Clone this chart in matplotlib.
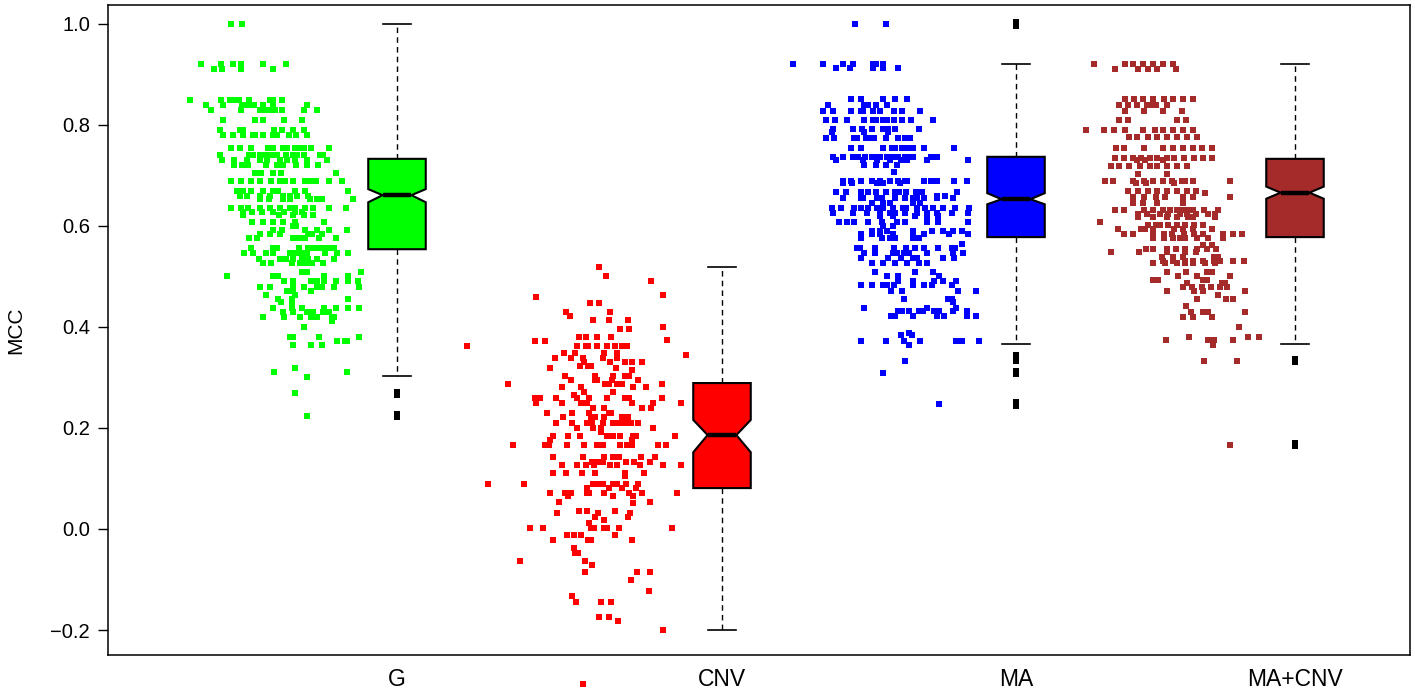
import matplotlib
matplotlib.use("Agg")
import matplotlib.pyplot as plt

# ---------------- data ----------------
categories = ["G", "CNV", "MA", "MA+CNV"]
colors = ["#00FF00", "#FF0000", "#0000FF", "#A52A2A"]

# box statistics (MCC)
box_whislo = [0.302, -0.200, 0.366, 0.366]
box_q1 = [0.554, 0.081, 0.578, 0.578]
box_med = [0.661, 0.186, 0.653, 0.666]
box_q3 = [0.733, 0.289, 0.737, 0.733]
box_whishi = [1.000, 0.519, 0.920, 0.920]
box_cilo = [0.647, 0.152, 0.643, 0.654]
box_cihi = [0.673, 0.216, 0.665, 0.678]
box_fliers = [
    [0.272, 0.266, 0.227, 0.221],
    [],
    [1.003, 0.997, 0.345, 0.338, 0.333, 0.312, 0.307, 0.251, 0.244],
    [0.337, 0.331, 0.171, 0.165],
]

# jittered points: MCC levels and the x positions of the points at each level
G_levels = [1.00, 0.92, 0.91, 0.85, 0.84, 0.83, 0.81, 0.79, 0.78, 0.755, 0.74, 0.73, 0.72, 0.705,
            0.69, 0.67, 0.66, 0.653, 0.635, 0.628, 0.622, 0.607, 0.60, 0.592, 0.584, 0.577,
            0.556, 0.547, 0.534, 0.526, 0.508, 0.501, 0.492, 0.48, 0.471, 0.463, 0.455, 0.45,
            0.438, 0.43, 0.42, 0.412, 0.40, 0.38, 0.373, 0.364, 0.318, 0.31, 0.30, 0.269, 0.224]
G_x = [
    [2.31, 2.42],
    [2.01, 2.21, 2.33, 2.41, 2.63, 2.86],
    [2.14, 2.22, 2.41, 2.73],
    [1.90, 2.21, 2.30, 2.33, 2.39, 2.49, 2.70, 2.73, 2.82],
    [2.06, 2.23, 2.42, 2.48, 2.54, 2.63, 2.73, 3.07],
    [2.11, 2.41, 2.60, 2.63, 2.69, 2.75, 2.82, 3.04, 3.17],
    [2.23, 2.55, 2.63, 2.84, 3.02],
    [2.20, 2.40, 2.43, 2.74, 2.82, 2.93, 3.04],
    [2.23, 2.33, 2.43, 2.53, 2.55, 2.63, 2.73, 2.77, 2.89, 2.96, 3.07],
    [2.31, 2.40, 2.51, 2.68, 2.73, 2.83, 2.87, 2.95, 3.00, 3.04, 3.11, 3.29],
    [2.20, 2.49, 2.53, 2.60, 2.65, 2.71, 2.77, 2.86, 2.93, 2.97, 3.04, 3.20, 3.23],
    [2.22, 2.34, 2.47, 2.60, 2.67, 2.80, 2.87, 2.95, 3.07, 3.27],
    [2.34, 2.42, 2.48, 2.66, 2.77, 2.83, 2.96, 3.07, 3.18],
    [2.55, 2.61, 2.73, 2.81, 3.36],
    [2.31, 2.41, 2.51, 2.60, 2.71, 2.80, 2.85, 2.93, 3.05, 3.11, 3.16, 3.29, 3.42],
    [2.37, 2.43, 2.51, 2.63, 2.73, 2.78, 2.95, 3.05, 3.48],
    [2.40, 2.47, 2.60, 2.70, 2.83, 2.90, 2.97, 3.08],
    [2.60, 2.69, 2.83, 2.90, 3.10, 3.17, 3.22, 3.53],
    [2.31, 2.41, 2.48, 2.60, 2.70, 2.80, 2.90, 2.95, 3.05, 3.13, 3.29, 3.46],
    [2.43, 2.52, 2.62, 2.73, 2.84, 2.95, 3.02],
    [2.43, 2.79, 2.93, 3.04, 3.13],
    [2.52, 2.63, 2.73, 2.83, 2.95, 3.24],
    [2.93, 2.96],
    [2.73, 2.82, 3.05, 3.17, 3.29, 3.47],
    [2.60, 2.70, 2.80, 3.08, 3.12, 3.22],
    [2.49, 2.57, 2.93, 2.99, 3.05, 3.19, 3.36],
    [2.51, 2.73, 2.77, 2.99, 3.08, 3.12, 3.17, 3.23, 3.28, 3.34],
    [2.44, 2.53, 2.66, 2.73, 2.90, 2.96, 3.02, 3.07, 3.25, 3.37, 3.48],
    [2.59, 2.80, 2.86, 2.93, 3.02, 3.08, 3.17, 3.34],
    [2.63, 2.71, 2.92, 3.00, 3.06, 3.12, 3.23],
    [3.02, 3.07, 3.61],
    [2.27, 2.73, 2.78, 3.24, 3.48],
    [2.84, 2.93, 3.11, 3.17, 3.24, 3.36, 3.48, 3.58],
    [2.60, 2.70, 2.93, 3.04, 3.17, 3.22, 3.34, 3.59],
    [2.87, 2.93, 3.11],
    [2.66, 2.95],
    [2.78, 2.92, 3.48],
    [2.81, 2.92],
    [2.73, 2.92, 3.02, 3.24, 3.36, 3.48, 3.59],
    [2.83, 2.93, 3.07, 3.13, 3.23, 3.29],
    [2.63, 2.84, 3.00, 3.11, 3.17, 3.32, 3.34],
    [3.32],
    [3.04],
    [2.90, 2.93, 3.19, 3.59],
    [3.37, 3.45, 3.47],
    [2.93, 3.11, 3.22],
    [2.95],
    [2.74, 3.47],
    [3.07],
    [2.95],
    [3.07],
]

CNV_levels = [0.518, 0.50, 0.492, 0.464, 0.459, 0.448, 0.43, 0.422, 0.414, 0.40, 0.396, 0.381,
              0.375, 0.372, 0.363, 0.348, 0.345, 0.338, 0.331, 0.323, 0.318, 0.315, 0.303, 0.295,
              0.288, 0.282, 0.271, 0.265, 0.259, 0.249, 0.24, 0.23, 0.222, 0.209, 0.20, 0.193,
              0.184, 0.176, 0.166, 0.143, 0.133, 0.127, 0.111, 0.105, 0.09, 0.082, 0.072, 0.066,
              0.054, 0.052, 0.036, 0.031, 0.023, 0.018, 0.011, 0.001, -0.012, -0.022, -0.038,
              -0.047, -0.063, -0.072, -0.086, -0.10, -0.123, -0.132, -0.144, -0.175, -0.182,
              -0.20, -0.307]
CNV_x = [
    [5.99], [6.06], [6.51], [6.63], [5.36], [5.90, 5.99], [5.66, 6.10], [5.70],
    [5.93, 6.09, 6.28], [6.63], [6.20, 6.29], [5.79, 5.86, 5.97, 6.11], [6.67], [5.35, 5.45],
    [4.67, 5.77, 5.86, 5.88, 5.97, 6.07, 6.15, 6.22, 6.27],
    [5.64, 5.75, 6.04, 6.17], [6.86], [5.55, 5.71, 5.83, 6.03, 6.17],
    [5.84, 6.10, 6.25, 6.32, 6.42], [5.80, 5.88, 5.91], [5.50, 6.16], [6.32],
    [5.65, 5.95, 6.13, 6.25, 6.29], [5.71, 5.95, 5.97, 6.12, 6.38],
    [5.08, 6.05, 6.09, 6.17, 6.22, 6.62], [5.62, 5.81, 6.33, 6.46], [5.84, 6.13], [5.74],
    [5.35, 5.40, 5.56, 5.77, 5.89, 6.07, 6.25, 6.29, 6.62],
    [5.36, 5.62, 5.81, 5.87, 6.32, 6.53, 6.81], [5.93, 6.04, 6.42, 6.51],
    [5.47, 5.72, 5.89, 6.09, 6.11], [5.63, 5.91, 5.95, 6.04, 6.22, 6.28],
    [5.56, 5.72, 5.87, 5.92, 6.03, 6.13, 6.17, 6.22, 6.28, 6.31, 6.38],
    [5.77, 5.93, 6.01, 6.53], [6.01],
    [5.53, 5.68, 5.80, 6.07, 6.13, 6.20, 6.33, 6.36, 6.75], [5.50, 6.32],
    [5.13, 5.45, 5.49, 5.67, 5.84, 5.97, 6.03, 6.20, 6.27, 6.32, 6.58, 6.66],
    [5.53, 5.83, 6.04, 6.13, 6.19, 6.41, 6.55], [5.92, 5.98, 6.03, 6.26, 6.34, 6.50],
    [5.62, 5.77, 5.86, 5.94, 6.10, 6.17, 6.40, 6.63, 6.81],
    [5.53, 5.66, 5.82, 5.95, 6.25, 6.44], [6.25],
    [4.88, 5.24, 5.93, 5.99, 6.03, 6.13, 6.17, 6.26, 6.38], [5.87, 6.09, 6.22, 6.36],
    [5.50, 5.65, 5.71, 5.87, 5.89, 6.04, 6.29, 6.42, 6.77], [5.68, 6.13, 6.33],
    [5.59, 6.50], [6.33], [5.79, 5.87, 6.15], [5.57, 5.98, 6.30], [5.95, 6.28], [6.04],
    [5.89], [5.30, 5.43, 5.91, 5.94, 6.04, 6.07, 6.19, 6.72], [5.67, 5.74, 5.81, 6.15],
    [5.53, 5.88, 5.91, 6.32], [5.74], [5.75, 5.78], [5.20, 5.85], [5.92],
    [5.85, 6.37, 6.50], [6.31], [6.49], [5.72], [5.76, 6.01, 6.11], [5.99, 6.09], [6.18],
    [6.63], [5.83],
]

MA_levels = [1.00, 0.92, 0.912, 0.851, 0.84, 0.828, 0.81, 0.792, 0.786, 0.775, 0.754, 0.737,
             0.73, 0.72, 0.707, 0.689, 0.685, 0.667, 0.66, 0.655, 0.645, 0.635, 0.625, 0.62,
             0.607, 0.60, 0.591, 0.584, 0.577, 0.564, 0.556, 0.547, 0.536, 0.527, 0.508, 0.501,
             0.492, 0.483, 0.472, 0.455, 0.45, 0.438, 0.432, 0.422, 0.389, 0.385, 0.373, 0.364,
             0.333, 0.308, 0.248]
MA_x = [
    [8.55, 8.86],
    [7.93, 8.23, 8.43, 8.53, 8.73, 8.76, 8.83],
    [8.36, 8.50, 8.73, 8.83, 8.98],
    [8.51, 8.61, 8.83, 8.95, 9.07],
    [8.28, 8.64, 8.68, 8.76, 8.87],
    [8.23, 8.33, 8.51, 8.61, 8.63, 8.73, 8.80, 8.94, 9.02, 9.20],
    [8.26, 8.35, 8.47, 8.64, 8.73, 8.76, 8.83, 8.87, 8.94, 9.02, 9.11, 9.33],
    [8.33, 8.53, 8.62, 8.72, 8.83, 8.88, 8.95, 9.19],
    [8.32, 8.64, 8.88],
    [8.26, 8.34, 8.54, 8.57, 8.66, 8.69, 8.74, 8.86, 8.98, 9.05, 9.10],
    [8.51, 8.61, 8.83, 8.92, 8.95, 9.02, 9.07, 9.13, 9.24, 9.54],
    [8.33, 8.43, 8.53, 8.58, 8.65, 8.72, 8.77, 8.80, 8.87, 8.92, 8.98, 9.05, 9.11, 9.13, 9.31, 9.37],
    [8.36, 8.63, 8.77, 8.90, 9.01, 9.07, 9.27, 9.68],
    [8.64, 8.76, 8.86, 8.97],
    [8.94],
    [8.43, 8.51, 8.61, 8.72, 8.80, 8.90, 8.98, 9.05, 9.07, 9.24, 9.31, 9.37, 9.54, 9.67],
    [8.43, 8.52, 8.77, 8.83, 9.00],
    [8.36, 8.46, 8.61, 8.68, 8.76, 8.86, 8.95, 8.99, 9.06, 9.16, 9.22, 9.57],
    [9.37, 9.45],
    [8.43, 8.61, 8.63, 8.77, 8.82, 8.95, 9.05, 9.13, 9.17, 9.24, 9.37, 9.53],
    [8.72, 8.83, 8.90, 9.13, 9.20],
    [8.32, 8.41, 8.54, 8.61, 8.68, 8.77, 8.83, 8.93, 9.03, 9.06, 9.17, 9.25, 9.33, 9.43, 9.55, 9.69],
    [8.33, 8.53, 8.67, 8.80, 8.90, 8.95, 9.05, 9.17, 9.27, 9.37, 9.52, 9.68],
    [8.80, 8.93, 9.15, 9.27, 9.38],
    [8.39, 8.47, 8.54, 8.68, 8.82, 8.97, 9.05, 9.27, 9.38, 9.68],
    [8.83, 8.93],
    [8.72, 8.80, 8.87, 9.13, 9.32, 9.43, 9.53, 9.62],
    [8.61, 8.72, 8.80, 8.93, 9.13, 9.24, 9.49, 9.68],
    [8.61, 8.82, 8.90, 8.95, 9.13, 9.19],
    [9.62],
    [8.57, 8.60, 8.75, 8.94, 9.06, 9.15, 9.24, 9.38, 9.52, 9.55],
    [8.64, 8.75, 8.93, 8.97, 9.04, 9.09, 9.27, 9.53, 9.63],
    [8.61, 8.88, 9.01, 9.13, 9.17, 9.43, 9.54],
    [8.72, 8.83, 8.95, 9.07, 9.19, 9.27],
    [8.75, 9.15, 9.33],
    [8.87, 8.98, 9.39],
    [8.98, 9.13, 9.34, 9.43, 9.56],
    [8.61, 8.72, 8.83, 8.87, 8.94, 9.13, 9.24, 9.32, 9.52],
    [8.91, 9.02, 9.58, 9.76],
    [9.04, 9.48, 9.52],
    [9.53],
    [8.64, 9.27, 9.56],
    [8.98, 9.02, 9.09, 9.19, 9.23, 9.34, 9.39, 9.53, 9.67],
    [8.91, 8.95, 9.13, 9.37, 9.44, 9.67, 9.76],
    [9.09],
    [9.01, 9.12],
    [8.61, 8.86, 9.04, 9.20, 9.56, 9.62, 9.79],
    [9.09],
    [9.05],
    [8.83],
    [9.39],
]

MACNV_levels = [0.92, 0.911, 0.851, 0.84, 0.828, 0.81, 0.79, 0.777, 0.754, 0.734, 0.73, 0.719,
                0.702, 0.69, 0.686, 0.669, 0.665, 0.658, 0.645, 0.632, 0.624, 0.618, 0.607,
                0.602, 0.595, 0.585, 0.577, 0.562, 0.554, 0.548, 0.539, 0.531, 0.526, 0.508,
                0.50, 0.493, 0.487, 0.479, 0.471, 0.463, 0.455, 0.442, 0.43, 0.42, 0.40, 0.38,
                0.374, 0.364, 0.333, 0.166]
MACNV_x = [
    [10.94, 11.25, 11.33, 11.43, 11.53, 11.63, 11.73],
    [11.15, 11.38, 11.48, 11.57, 11.76],
    [11.25, 11.34, 11.43, 11.53, 11.64, 11.73, 11.83, 11.93],
    [11.19, 11.28, 11.37, 11.47, 11.50, 11.56, 11.67],
    [11.25, 11.44, 11.63, 11.82],
    [11.19, 11.28, 11.77, 11.86],
    [10.86, 11.04, 11.14, 11.25, 11.43, 11.55, 11.63, 11.73, 11.83, 11.93],
    [11.29, 11.37, 11.48, 11.57, 11.67, 11.77, 11.87, 11.97],
    [11.16, 11.24, 11.44, 11.63, 11.73, 11.83, 11.93, 12.02, 12.12],
    [11.15, 11.24, 11.33, 11.41, 11.50, 11.57, 11.67, 11.74, 11.84, 11.94, 12.03, 12.12],
    [11.37, 11.45, 11.63],
    [11.11, 11.19, 11.29, 11.40, 11.50, 11.57, 11.67, 11.77, 11.87],
    [11.38, 11.67],
    [11.05, 11.13, 11.33, 11.44, 11.53, 11.63, 11.72, 11.82, 11.85, 11.93, 12.30],
    [11.36, 11.46, 11.74],
    [11.28, 11.38, 11.48, 11.57, 11.67, 11.77, 11.87, 11.96],
    [12.05],
    [11.33, 11.44, 11.56, 11.65, 11.83, 11.93, 12.30],
    [11.33, 11.43, 11.57, 11.83],
    [11.15, 11.24, 11.44, 11.53, 11.63, 11.70, 11.77, 11.83, 11.88, 11.93, 12.04, 12.18],
    [11.38, 11.47, 11.60, 11.68, 11.80, 11.87, 11.96, 12.08, 12.15],
    [11.38, 11.53, 11.67, 11.77, 11.88, 11.93, 12.15],
    [11.00],
    [11.48, 11.56, 11.60, 11.68, 11.77, 11.85, 11.94, 12.03],
    [11.18, 11.41, 11.45, 11.53, 11.74, 11.83, 11.93, 12.12],
    [11.24, 11.33, 11.53, 11.64, 11.72, 11.84, 11.94, 12.03, 12.23, 12.33, 12.42],
    [11.53, 11.64, 11.73, 11.80, 11.85, 11.97, 12.08, 12.23],
    [12.03, 12.12],
    [11.46, 11.53, 11.67, 11.76, 11.85, 11.97, 12.07, 12.16],
    [11.11, 11.39, 11.67, 11.85, 11.96],
    [11.62, 11.73, 11.83, 12.14, 12.18],
    [11.63, 11.73, 11.85, 11.93, 12.03, 12.14, 12.20, 12.33, 12.44],
    [11.53, 11.65, 11.77, 11.85, 11.93, 12.05, 12.15],
    [11.67, 11.86, 12.07, 12.12],
    [11.78, 11.97, 12.30],
    [11.53, 11.58, 12.03, 12.07],
    [11.87, 12.22, 12.25],
    [11.83, 11.92, 12.02, 12.11, 12.20, 12.27],
    [11.67, 11.94, 12.03, 12.45],
    [12.18],
    [11.97, 12.26, 12.33],
    [11.86],
    [11.91, 12.03, 12.08, 12.45],
    [11.83, 11.93, 12.12],
    [12.39],
    [11.89, 12.48, 12.59],
    [11.66, 12.08, 12.14, 12.33],
    [12.13],
    [12.04, 12.37],
    [12.30],
]

# ---------------- layout ----------------
W, H = 1415, 693
box_positions = [3.97, 7.22, 10.16, 12.95]
box_width = 0.575

fig = plt.figure(figsize=(W / 100, H / 100), dpi=100)
ax = fig.add_axes([108 / W, 38 / H, 1302 / W, 650 / H])

groups = [(G_levels, G_x), (CNV_levels, CNV_x), (MA_levels, MA_x), (MACNV_levels, MACNV_x)]
for (levels, xs), col in zip(groups, colors):
    px, py = [], []
    for lv, row in zip(levels, xs):
        for xv in row:
            px.append(xv)
            py.append(lv)
    ax.scatter(px, py, marker="s", s=20, c=col, linewidths=0, clip_on=False, zorder=2)

stats = []
for i, name in enumerate(categories):
    stats.append(dict(label=name, whislo=box_whislo[i], q1=box_q1[i], med=box_med[i],
                      q3=box_q3[i], whishi=box_whishi[i], cilo=box_cilo[i], cihi=box_cihi[i],
                      fliers=box_fliers[i]))

bp = ax.bxp(stats, positions=box_positions, widths=box_width, shownotches=True,
            patch_artist=True, manage_ticks=False,
            boxprops=dict(edgecolor="black", linewidth=1.5),
            medianprops=dict(color="black", linewidth=3.2, solid_capstyle="butt"),
            whiskerprops=dict(color="black", linewidth=1.0, linestyle=(0, (4, 3))),
            capprops=dict(color="black", linewidth=1.2),
            flierprops=dict(marker="s", markersize=4.4, markerfacecolor="black",
                            markeredgecolor="black", markeredgewidth=0, linestyle="none"))
for patch, col in zip(bp["boxes"], colors):
    patch.set_facecolor(col)
    patch.set_zorder(3)
for key in ("medians", "whiskers", "caps", "fliers"):
    for art in bp[key]:
        art.set_zorder(4)

ax.set_xlim(1.08, 14.10)
ax.set_ylim(-0.2495, 1.0376)

ax.set_xticks(box_positions)
ax.set_xticklabels(categories, fontsize=16.5, family="Liberation Sans")
ax.tick_params(axis="x", length=0, pad=9)
ax.set_yticks([-0.2, 0.0, 0.2, 0.4, 0.6, 0.8, 1.0])
ax.set_yticklabels(["\u22120.2", "0.0", "0.2", "0.4", "0.6", "0.8", "1.0"],
                   fontsize=14.5, family="Liberation Sans")
ax.tick_params(axis="y", length=7, width=1, pad=6)
ax.set_ylabel("MCC", fontsize=15, family="Liberation Sans", labelpad=18)
for sp in ax.spines.values():
    sp.set_linewidth(1.1)

fig.savefig("out.png", dpi=100)
